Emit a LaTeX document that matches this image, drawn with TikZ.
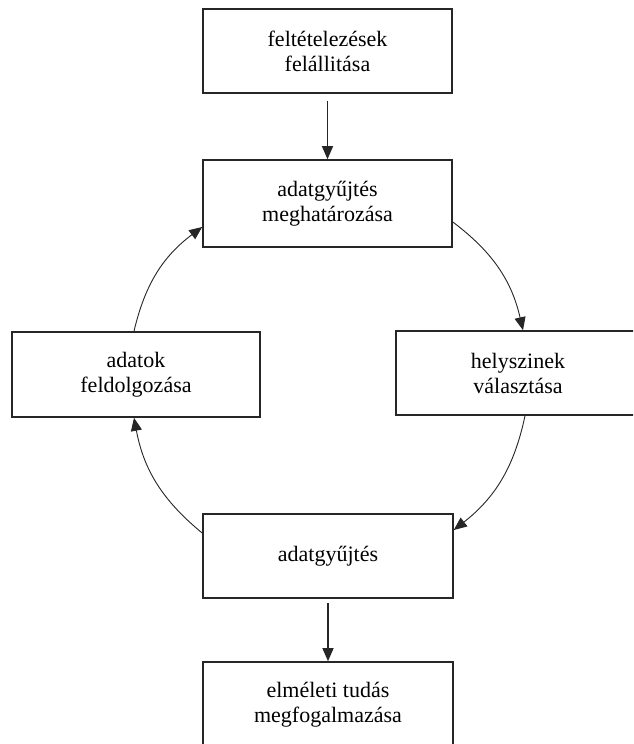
\documentclass[tikz,border=0pt]{standalone}
\usepackage{fontspec}
\setmainfont{Liberation Serif}
\usetikzlibrary{arrows.meta,calc}
\begin{document}
\begin{tikzpicture}[x=1pt,y=1pt,
  box/.style={draw=black!85,line width=1.6pt,fill=white,rectangle,inner sep=0pt,
    align=center,font=\fontsize{22}{25}\selectfont,text=black},
  conn/.style={draw=black!85,line width=1.2pt,-{Triangle[length=13pt,width=11pt]}},
  arcconn/.style={conn,line width=0.9pt}]
\useasboundingbox (0,0) rectangle (633,-744);
\clip (0,0) rectangle (633,-744);
\fill[white] (0,0) rectangle (633,-744);
\node[box,minimum width=249pt,minimum height=84pt] (A) at (327.5,-51) {feltételezések\\felállitása};
\node[box,minimum width=249pt,minimum height=87pt] (B) at (327.5,-203.5) {adatgyűjtés\\meghatározása};
\node[box,minimum width=248pt,minimum height=85pt] (L) at (136,-374.5) {adatok\\feldolgozása};
\node[box,minimum width=244pt,minimum height=84pt] (R) at (518,-373) {helyszinek\\választása};
\node[box,minimum width=250pt,minimum height=84pt] (C) at (328,-556) {adatgyűjtés};
\node[box,minimum width=250pt,minimum height=86pt] (E) at (328,-705) {elméleti tudás\\megfogalmazása};
\draw[conn,shorten <=7pt] (A.south) -- (B.north);
\draw[conn,shorten <=4pt] (C.south) -- (E.north);
\draw[arcconn] ($(B.east)+(0,-18.5)$) to[bend left=20] ($(R.north)+(5,0)$);
\draw[arcconn] ($(R.south)+(7,0)$) to[bend left=20] ($(C.east)+(0,26)$);
\draw[arcconn] ($(C.west)+(0,23)$) to[bend left=20] ($(L.south)+(-2,0)$);
\draw[arcconn] ($(L.north)+(-2,0)$) to[bend left=20] ($(B.west)+(0,-23.5)$);
\end{tikzpicture}
\end{document}
